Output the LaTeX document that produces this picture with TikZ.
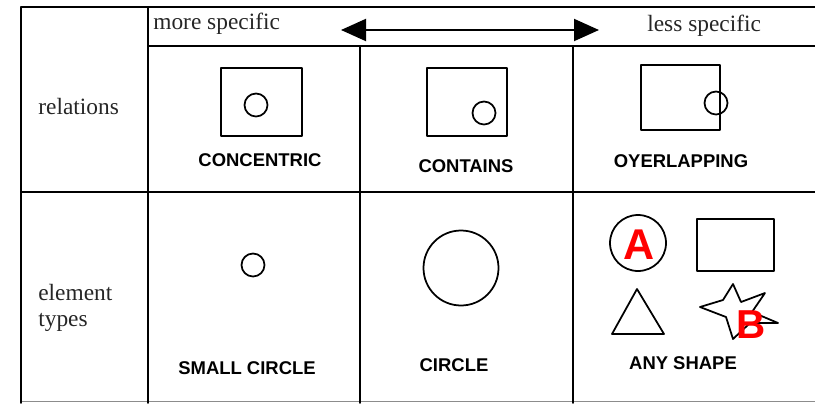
\documentclass[tikz,border=0pt]{standalone}
\usepackage{fontspec}
\setmainfont{Liberation Serif}
\setsansfont{Liberation Sans}
\usetikzlibrary{
    arrows.meta,
    positioning
}

\begin{document}
\begin{tikzpicture}[
    x=0.2mm, y=-0.2mm,
    line cap=round, line join=round,
    >={Triangle[length=5mm, width=4.4mm]},
    %% --- styles ---
    gridline/.style   = {draw=black, line width=1.1pt},
    rowlabel/.style   = {font=\fontsize{13.3}{14.5}\selectfont, align=left,
                         anchor=west, inner sep=0pt, text=black!85},
    caplabel/.style   = {font=\sffamily\bfseries\fontsize{10.5}{12}\selectfont,
                         inner sep=0pt},
    outlinebox/.style = {rectangle, draw, line width=1pt, inner sep=0pt},
    ring/.style       = {circle, draw, line width=1pt, inner sep=0pt},
    marker/.style     = {font=\sffamily\bfseries\fontsize{24.5}{24.5}\selectfont,
                         text=red, inner sep=0pt}
]
\useasboundingbox (0,0) rectangle (815,403);

%% =====================================================
%% Table grid
%% =====================================================
\draw[gridline] (21,7) -- (815,7);
\draw[gridline] (148,46) -- (815,46);
\draw[gridline] (21,192) -- (815,192);
\draw[draw=black!45, line width=0.8pt] (21,401.5) -- (815,401.5);
\draw[gridline] (21,7) -- (21,403);
\draw[gridline] (148,7) -- (148,403);
\draw[gridline] (360,46) -- (360,403);
\draw[gridline] (573,46) -- (573,403);

%% =====================================================
%% Header: specificity scale
%% =====================================================
\node[rowlabel] (more) at (153,24) {more specific};
\node[rowlabel] (less) at (647,26) {less specific};
\coordinate (moretip) at (341,30);
\coordinate (lesstip) at (599,30);
\draw[<->, line width=1.1pt] (moretip) -- (lesstip);

%% =====================================================
%% Row labels
%% =====================================================
\node[rowlabel] (rel)  at (38,107) {relations};
\node[rowlabel] (elem) at (38,308) {element\\types};

%% =====================================================
%% Relations row
%% =====================================================
\node[outlinebox, minimum width=16.2mm, minimum height=13.6mm]
    (concsq) at (261.5,102) {};
\node[ring, minimum size=4.6mm] (concring) at (256,105) {};
\node[caplabel] (conctxt) at (260,160) {CONCENTRIC};

\node[outlinebox, minimum width=16mm, minimum height=13.6mm]
    (contsq) at (467,102) {};
\node[ring, minimum size=4.6mm] (contring) at (484,113) {};
\node[caplabel] (conttxt) at (466,166) {CONTAINS};

\node[outlinebox, minimum width=15.8mm, minimum height=13mm]
    (ovlsq) at (680.5,97.5) {};
\node[ring, minimum size=4.6mm] (ovlring) at (716,103) {};
\node[caplabel] (ovltxt) at (681,161) {OYERLAPPING};

%% =====================================================
%% Element types row
%% =====================================================
\node[ring, minimum size=4.6mm] (small) at (253,265) {};
\node[caplabel] (smalltxt) at (247,368) {SMALL CIRCLE};

\node[ring, minimum size=15mm] (big) at (461,268) {};
\node[caplabel] (bigtxt) at (454,365) {CIRCLE};

% any shape: four sample outlines
\node[ring, minimum size=11.2mm] (anyring) at (638,243) {};
\node[outlinebox, minimum width=15.4mm, minimum height=10.4mm]
    (anybox) at (735.5,245) {};
\draw[line width=1pt] (637,289) -- (664,334) -- (612,334) -- cycle;
\draw[line width=1pt] (733,284) -- (741,302) -- (765,293) -- (752,312)
    -- (778,323) -- (750,323) -- (733,339) -- (726,317) -- (700,307)
    -- (723,300) -- cycle;
\node[caplabel] (anytxt) at (683,363) {ANY SHAPE};

\node[marker] (markA) at (639,245) {A};
\node[marker, font=\sffamily\bfseries\fontsize{23}{23}\selectfont]
    (markB) at (751,325) {B};

\end{tikzpicture}
\end{document}
